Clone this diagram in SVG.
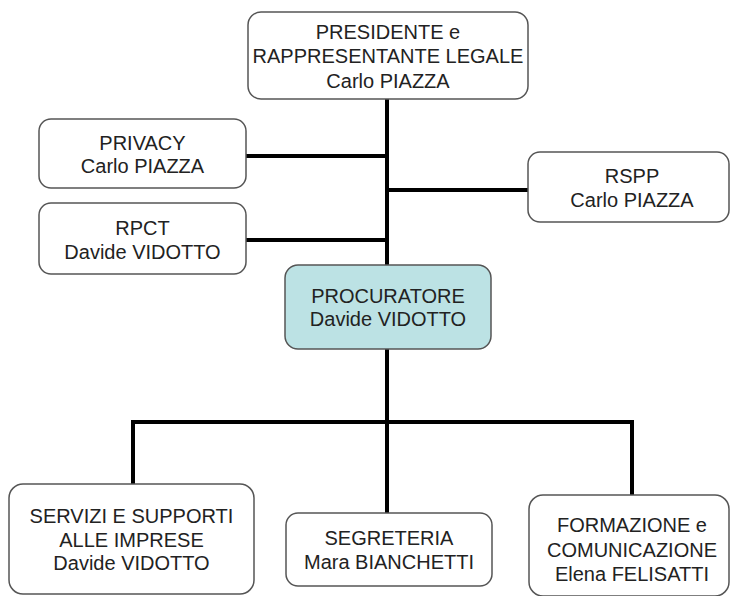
<svg xmlns="http://www.w3.org/2000/svg" width="731" height="596" viewBox="0 0 731 596">
<style>
  .box{fill:#ffffff;stroke:#555555;stroke-width:1.5}
  .hl{fill:#bce2e4}
  .conn{stroke:#000000;stroke-width:4;fill:none;stroke-linecap:butt}
  text{font-family:"Liberation Sans",Arial,sans-serif;font-size:20px;fill:#222222;text-anchor:middle}
</style>
<rect width="731" height="596" fill="#ffffff"/>
<g id="connectors">
  <line class="conn" x1="387" y1="99" x2="387" y2="265"/>
  <line class="conn" x1="246" y1="156" x2="389" y2="156"/>
  <line class="conn" x1="246" y1="240" x2="389" y2="240"/>
  <line class="conn" x1="385" y1="190" x2="528" y2="190"/>
  <line class="conn" x1="387" y1="349" x2="387" y2="513"/>
  <polyline class="conn" points="133,484 133,422 632,422 632,495"/>
</g>
<g id="presidente">
  <rect class="box" x="248" y="12" width="280" height="87" rx="13"/>
  <text x="388" y="38.5">PRESIDENTE e</text>
  <text x="388" y="63">RAPPRESENTANTE LEGALE</text>
  <text x="388" y="87.5">Carlo PIAZZA</text>
</g>
<g id="privacy">
  <rect class="box" x="39" y="119" width="207" height="69" rx="12"/>
  <text x="142.5" y="149.5">PRIVACY</text>
  <text x="142.5" y="172.5">Carlo PIAZZA</text>
</g>
<g id="rpct">
  <rect class="box" x="39" y="203" width="207" height="71" rx="12"/>
  <text x="142.5" y="235">RPCT</text>
  <text x="142.5" y="258.5">Davide VIDOTTO</text>
</g>
<g id="rspp">
  <rect class="box" x="528" y="152" width="201" height="70" rx="12"/>
  <text x="632" y="182.5">RSPP</text>
  <text x="632" y="206.5">Carlo PIAZZA</text>
</g>
<g id="procuratore">
  <rect class="box hl" x="285" y="265" width="206" height="84" rx="13"/>
  <text x="388" y="303">PROCURATORE</text>
  <text x="388" y="326">Davide VIDOTTO</text>
</g>
<g id="servizi">
  <rect class="box" x="9" y="484" width="245" height="110" rx="14"/>
  <text x="131.5" y="523">SERVIZI E SUPPORTI</text>
  <text x="131.5" y="546.5">ALLE IMPRESE</text>
  <text x="131.5" y="570">Davide VIDOTTO</text>
</g>
<g id="segreteria">
  <rect class="box" x="286" y="513" width="206" height="73" rx="12"/>
  <text x="389" y="545">SEGRETERIA</text>
  <text x="389" y="569">Mara BIANCHETTI</text>
</g>
<g id="formazione">
  <rect class="box" x="529" y="495" width="200" height="101" rx="14"/>
  <text x="632" y="532">FORMAZIONE e</text>
  <text x="632" y="556.5">COMUNICAZIONE</text>
  <text x="632" y="581">Elena FELISATTI</text>
</g>
</svg>
